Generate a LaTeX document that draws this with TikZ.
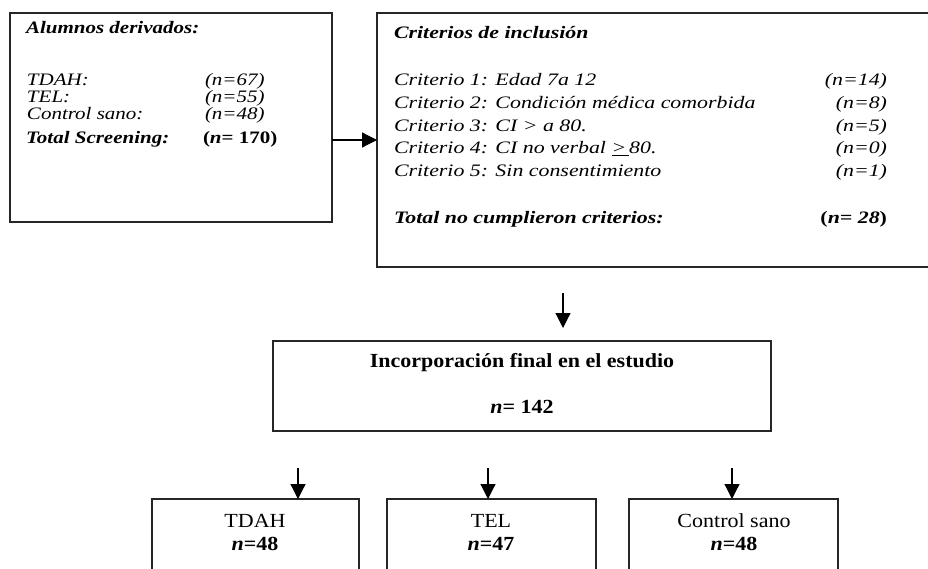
\documentclass[tikz,border=0pt]{standalone}
\usepackage{fontspec}
\setmainfont{Liberation Serif}
\newfontfamily\wideA{Liberation Serif}[FakeStretch=1.2]
\newfontfamily\wideC{Liberation Serif}[FakeStretch=1.25]
\newfontfamily\wideB{Liberation Serif}[FakeStretch=1.1]
\usetikzlibrary{arrows.meta}
\tikzset{
  boxnode/.style={draw=black!85, line width=1.4pt, rectangle, inner sep=0pt, outer sep=0pt},
  txt/.style={anchor=base west, inner sep=0pt, outer sep=0pt},
  txtr/.style={anchor=base east, inner sep=0pt, outer sep=0pt},
  ctxt/.style={anchor=base, inner sep=0pt, outer sep=0pt, font=\wideB\fontsize{20}{20}\selectfont},
  ctxtb/.style={anchor=base, inner sep=0pt, outer sep=0pt, font=\wideB\fontsize{20}{20}\selectfont\bfseries},
  fa/.style={font=\wideA\fontsize{17.5}{17.5}\selectfont\itshape},
  fab/.style={font=\wideA\fontsize{17.5}{17.5}\selectfont\itshape\bfseries},
  fb/.style={font=\wideC\fontsize{17.5}{17.5}\selectfont\itshape},
  fbb/.style={font=\wideC\fontsize{17.5}{17.5}\selectfont\itshape\bfseries},
  arr/.style={line width=1.2pt, -{Triangle[length=15pt,width=15pt]}}
}
\begin{document}
\begin{tikzpicture}[x=1pt,y=-1pt]
\useasboundingbox (0,0) rectangle (928,569);
\clip (0,0) rectangle (928,569);
% boxes
\node[boxnode, minimum width=322pt, minimum height=209pt] (b1) at (171,117.5) {};
\node[boxnode, minimum width=563pt, minimum height=254pt] (b2) at (658.5,140) {};
\node[boxnode, minimum width=498pt, minimum height=90pt] (b3) at (522,386) {};
\node[boxnode, minimum width=207pt, minimum height=120pt] (b4) at (255.5,559) {};
\node[boxnode, minimum width=209pt, minimum height=120pt] (b5) at (491.5,559) {};
\node[boxnode, minimum width=209pt, minimum height=120pt] (b6) at (733.5,559) {};
% box 1 texts
\node[txt, fab] (t1a) at (26,34) {Alumnos derivados:};
\node[txt, fa] (t1b) at (27,86) {TDAH:};
\node[txt, fa] (t1c) at (27,103) {TEL:};
\node[txt, fa] (t1d) at (27,120) {Control sano:};
\node[txt, fa] (t1e) at (205,86) {(n=67)};
\node[txt, fa] (t1f) at (205,103) {(n=55)};
\node[txt, fa] (t1g) at (205,120) {(n=48)};
\node[txt, fab] (t1h) at (26,144) {Total Screening:};
\node[txt, font=\wideA\fontsize{17.5}{17.5}\selectfont\bfseries] (t1i) at (203,144) {(\textit{n}= 170)};
% box 2 texts
\node[txt, fbb] (t2a) at (394,39) {Criterios de inclusión};
\node[txt, fb] (t2b) at (394,86) {Criterio 1: Edad 7a 12};
\node[txt, fb] (t2c) at (394,108.7) {Criterio 2: Condición médica comorbida};
\node[txt, fb] (t2d) at (394,131.4) {Criterio 3: CI > a 80.};
\node[txt, fb] (t2e) at (394,154) {Criterio 4: CI no verbal \underline{>\,}80.};
\node[txt, fb] (t2f) at (394,176.8) {Criterio 5: Sin consentimiento};
\node[txtr, fb] (t2g) at (887,86) {(n=14)};
\node[txtr, fb] (t2h) at (887,108.7) {(n=8)};
\node[txtr, fb] (t2i) at (887,131.4) {(n=5)};
\node[txtr, fb] (t2j) at (887,154) {(n=0)};
\node[txtr, fb] (t2k) at (887,176.8) {(n=1)};
\node[txt, fbb] (t2l) at (394,224) {Total no cumplieron criterios:};
\node[txtr, font=\wideC\fontsize{17.5}{17.5}\selectfont\bfseries] (t2m) at (887,224) {(\textit{n= 28})};
% box 3 texts
\node[ctxtb] (t3a) at (522,367) {Incorporación final en el estudio};
\node[ctxtb] (t3b) at (522,413) {\textit{n}= 142};
% bottom texts
\node[ctxt] (t4a) at (255,527) {TDAH};
\node[ctxtb] (t4b) at (255,550) {\textit{n}=48};
\node[ctxt] (t5a) at (491,527) {TEL};
\node[ctxtb] (t5b) at (491,550) {\textit{n}=47};
\node[ctxt] (t6a) at (734,527) {Control sano};
\node[ctxtb] (t6b) at (734,550) {\textit{n}=48};
% connectors
\coordinate (a1) at (332,140);
\draw[arr] (a1) -- (a1 -| b2.west);
\coordinate (a2s) at (563,293);
\coordinate (a2e) at (563,328);
\draw[arr] (a2s) -- (a2e);
\coordinate (a4) at (298,468);
\coordinate (a5) at (488,468);
\coordinate (a6) at (732,468);
\draw[arr] (a4) -- (a4 |- b4.north);
\draw[arr] (a5) -- (a5 |- b5.north);
\draw[arr] (a6) -- (a6 |- b6.north);
\end{tikzpicture}
\end{document}
